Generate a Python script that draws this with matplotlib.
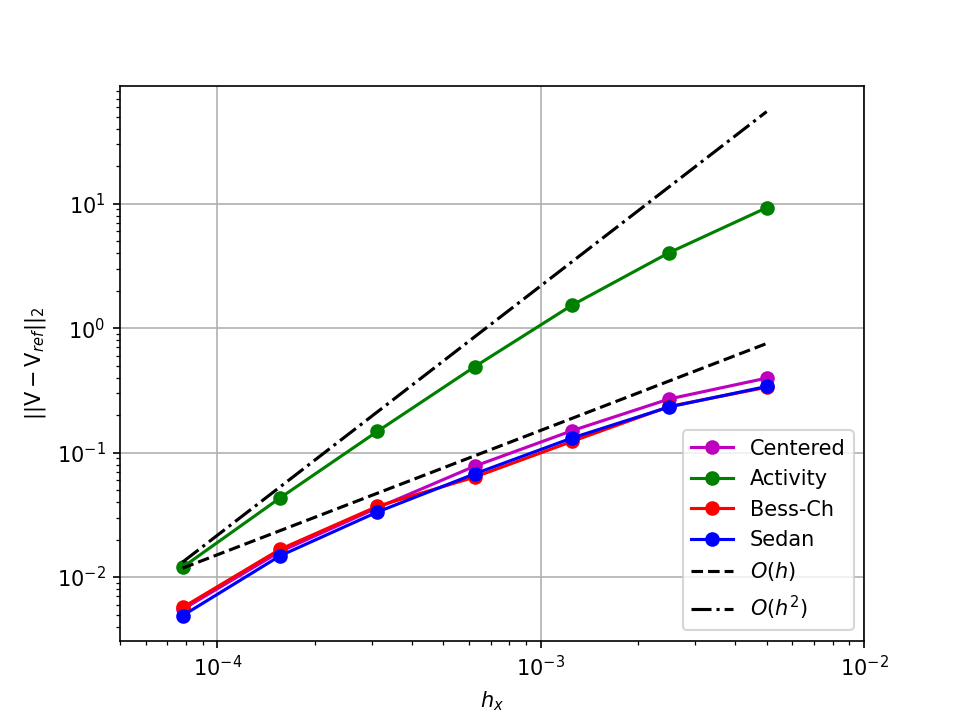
import matplotlib
matplotlib.use("Agg")
import matplotlib.pyplot as plt

h = [7.8125e-5, 1.5625e-4, 3.125e-4, 6.25e-4, 1.25e-3, 2.5e-3, 5e-3]
centered = [0.0055, 0.0160, 0.036, 0.0778, 0.150, 0.270, 0.397]
activity = [0.0120, 0.0432, 0.148, 0.49, 1.53, 4.05, 9.29]
bess_ch = [0.0057, 0.0167, 0.037, 0.0636, 0.123, 0.235, 0.335]
sedan = [0.0049, 0.0148, 0.0333, 0.0675, 0.131, 0.233, 0.340]

ref_h = [7.8125e-5, 5e-3]
order1 = [0.0118, 0.753]
order2 = [0.0132, 55.0]

fig, ax = plt.subplots(figsize=(6.4, 4.8), dpi=150)
ax.loglog(h, centered, 'o-', color='m', label='Centered')
ax.loglog(h, activity, 'o-', color='g', label='Activity')
ax.loglog(h, bess_ch, 'o-', color='r', label='Bess-Ch')
ax.loglog(h, sedan, 'o-', color='b', label='Sedan')
ax.loglog(ref_h, order1, 'k--', label=r'$O(h)$')
ax.loglog(ref_h, order2, 'k-.', label=r'$O(h^2)$')
ax.set_xlim(5e-5, 1e-2)
ax.grid(True)
ax.set_xlabel(r'$h_x$')
ax.set_ylabel(r'$||\mathrm{V} - \mathrm{V}_{ref}||_2$')
ax.legend(loc='lower right')
fig.savefig('out.png', dpi=150)
